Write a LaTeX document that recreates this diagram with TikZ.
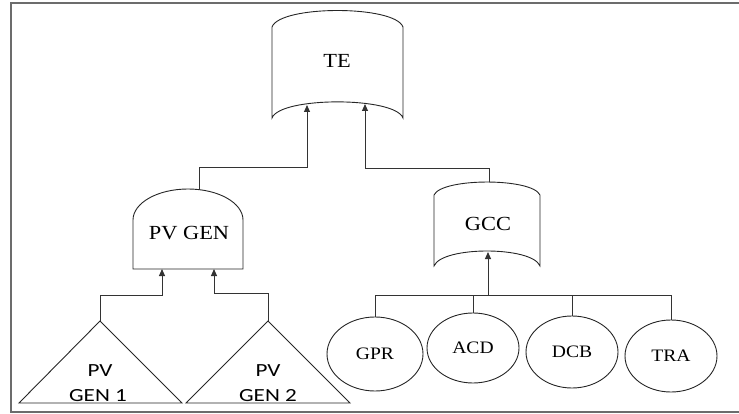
\documentclass[tikz,border=0pt]{standalone}
\usepackage{fontspec}
\usetikzlibrary{shapes.geometric,arrows.meta}
\newfontfamily\gateserif[FakeStretch=1.12]{Liberation Serif}
\newfontfamily\eventsans[FakeStretch=1.25]{Carlito}
\tikzset{
  shapeline/.style={draw=black!85, line width=0.9pt},
  wire/.style={draw=black!80, line width=1pt},
  feed/.style={wire, -{Triangle[length=7pt,width=6pt]}},
  gatelabel/.style={font=\gateserif\fontsize{20}{24}\selectfont, inner sep=0pt},
  basic/.style={shapeline, ellipse, inner sep=0pt, font=\gateserif\fontsize{17.5}{21}\selectfont},
  eventlabel/.style={font=\eventsans\fontsize{18.5}{22}\selectfont, inner sep=0pt}
}
\begin{document}
\begin{tikzpicture}[x=1pt,y=-1pt]
\useasboundingbox (0,0) rectangle (739,414);

% open frame (no right edge)
\draw[gray!85!black, line width=2pt] (739,3) -- (10.5,3) -- (10.5,412) -- (739,412);

% top event TE
\draw[shapeline] (272,118) -- (272,27)
  .. controls (280,5) and (395,5) .. (403,27) -- (403,118)
  .. controls (395,96.5) and (280,96.5) .. (272,118) -- cycle;
\node[gatelabel] (te) at (337,61) {TE};
\coordinate (te-in1) at (307,105);
\coordinate (te-in2) at (365,104);

% AND gate PV GEN
\draw[shapeline] (133,269) -- (133,220)
  .. controls (133,202.9) and (157.6,189) .. (188,189)
  .. controls (218.4,189) and (243,202.9) .. (243,220) -- (243,269) -- cycle;
\node[gatelabel] (pvgen) at (189,233) {PV GEN};
\coordinate (pvgen-out) at (199,189.6);
\coordinate (pvgen-in1) at (162,269);
\coordinate (pvgen-in2) at (214,269);

% gate GCC
\draw[shapeline] (434,266) -- (434,195)
  .. controls (442,177.7) and (532,177.7) .. (540,195) -- (540,266)
  .. controls (532,246) and (442,246) .. (434,266) -- cycle;
\node[gatelabel] (gcc) at (488,224) {GCC};
\coordinate (gcc-out) at (489,182.5);
\coordinate (gcc-in) at (488,252);

% transfer triangles
\draw[shapeline] (100,321) -- (182,403) -- (19,403) -- cycle;
\draw[shapeline] (268,321) -- (350,403) -- (186,403) -- cycle;
\coordinate (tri1) at (100,321);
\coordinate (tri2) at (268,321);
\node[eventlabel] (pv1a) at (100,371) {PV};
\node[eventlabel] (pv1b) at (98,396) {GEN 1};
\node[eventlabel] (pv2a) at (268,371) {PV};
\node[eventlabel] (pv2b) at (268,396) {GEN 2};

% basic events
\node[basic, minimum width=96pt, minimum height=74pt] (gpr) at (375,354) {GPR};
\node[basic, minimum width=92pt, minimum height=70pt] (acd) at (473,348) {ACD};
\node[basic, minimum width=92pt, minimum height=72pt] (dcb) at (572,352) {DCB};
\node[basic, minimum width=92pt, minimum height=72pt] (tra) at (671,356) {TRA};

% connectors
\draw[feed] (pvgen-out) -- ++(0,-22) -| (te-in1);
\draw[feed] (gcc-out) -- ++(0,-13.5) -| (te-in2);
\draw[feed] (tri1) -- ++(0,-26) -| (pvgen-in1);
\draw[feed] (tri2) -- ++(0,-28) -| (pvgen-in2);

\coordinate (bus) at (0,295);
\draw[wire] (gpr.north) -- (gpr.north |- bus) -- (tra.north |- bus) -- (tra.north);
\draw[wire] (acd.north) -- (acd.north |- bus);
\draw[wire] (dcb.north) -- (dcb.north |- bus);
\draw[feed] (gcc-in |- bus) -- (gcc-in);
\end{tikzpicture}
\end{document}
